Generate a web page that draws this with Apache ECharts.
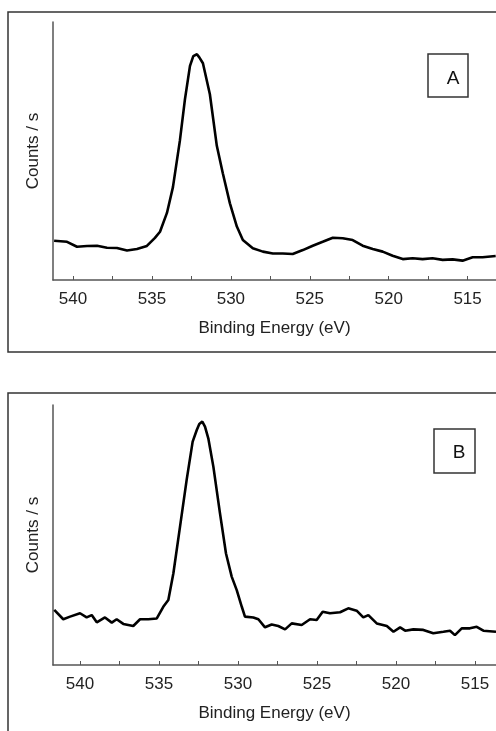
<!DOCTYPE html>
<html>
<head>
<meta charset="utf-8">
<script src="https://cdn.jsdelivr.net/npm/echarts@6/dist/echarts.min.js"></script>
<style>
    html, body {margin: 0; padding: 0; background: #fff;}
    #chart {width: 496px; height: 731px;}
</style>
</head>
<body>
<div id="chart"></div>
<script>
    // 面板 A：结合能 / 计数
    const energyA = [541.2, 540.38, 539.75, 539.11, 538.48, 537.85, 537.22, 536.58, 535.95, 535.32,
        534.81, 534.49, 534.05, 533.67, 533.23, 532.91, 532.59, 532.38, 532.15, 532.0, 531.77, 531.33,
        530.89, 530.51, 530.06, 529.62, 529.24, 528.61, 527.97, 527.34, 526.71, 526.08,
        525.44, 524.81, 524.18, 523.54, 522.91, 522.28, 521.65, 521.01, 520.38, 519.75,
        519.11, 518.48, 517.85, 517.22, 516.58, 515.95, 515.32, 514.68, 514.05, 513.22];
    const countsA = [15.2, 14.8, 12.9, 13.2, 13.3, 12.5, 12.4, 11.4, 12.0, 13.2,
        16.3, 18.7, 26, 36, 54, 70, 83, 86.8, 87.5, 86.3, 84, 72,
        52, 41.4, 29.7, 20.7, 15.5, 12.3, 11, 10.3, 10.3, 10.1,
        11.6, 13.3, 14.8, 16.4, 16.2, 15.5, 13.3, 12, 11, 9.4,
        8.1, 8.4, 8.1, 8.4, 7.8, 8, 7.5, 8.8, 8.8, 9.3];

    // 面板 B
    const energyB = [541.63, 541.06, 540.63, 540, 539.58, 539.26, 538.94, 538.42, 537.99, 537.68,
        537.26, 536.63, 536.2, 535.68, 535.14, 534.73, 534.41, 534.09, 533.67, 533.25,
        532.87, 532.61, 532.45, 532.26, 532.09, 531.88, 531.56, 531.14, 530.76, 530.4, 530.08, 529.76,
        529.56, 529.03, 528.71, 528.29, 527.87, 527.45, 527.02, 526.6, 525.97, 525.44,
        525.02, 524.64, 524.18, 523.54, 523.02, 522.49, 522.07, 521.75, 521.22, 520.58,
        520.16, 519.74, 519.42, 518.9, 518.27, 517.64, 517, 516.58, 516.27, 515.84,
        515.32, 514.89, 514.47, 513.67];
    const countsB = [21.2, 17.6, 18.6, 19.9, 18.3, 19.2, 16.4, 18.3, 16.3, 17.6,
        15.8, 15, 17.6, 17.6, 17.9, 22.4, 25, 35.3, 53.2, 71.2,
        85.9, 90.4, 92.7, 93.6, 91.7, 87.2, 76.3, 58.3, 42.9, 34, 28.8, 22.4,
        18.6, 18.3, 17.6, 14.5, 15.6, 15, 13.7, 16, 15.4, 17.6,
        17.3, 20.5, 19.9, 20.3, 21.8, 20.9, 18.3, 19.2, 16, 15,
        12.8, 14.5, 13.2, 13.7, 13.5, 12.2, 12.8, 13.2, 11.5, 14.1,
        14.1, 14.7, 13.2, 12.8];

    const tickValues = [515, 517.5, 520, 522.5, 525, 527.5, 530, 532.5, 535, 537.5, 540];
    const labelValues = [515, 520, 525, 530, 535, 540];
    const panelLabels = ['A', 'B'];

    const zip = (xs, ys) => xs.map((x, i) => [x, ys[i]]);
    const font = '"Liberation Sans", Arial, sans-serif';
    const axisColor = '#555';

    const makeX = function (gridIndex, min, max) {
        return {
            gridIndex: gridIndex,
            type: 'value',
            inverse: true,
            min: min,
            max: max,
            name: 'Binding Energy (eV)',
            nameLocation: 'middle',
            nameGap: 40,
            nameTextStyle: {fontFamily: font, fontSize: 17, color: '#222'},
            axisLine: {lineStyle: {color: axisColor, width: 1.5}},
            axisTick: {inside: true, length: 4, customValues: tickValues, lineStyle: {color: axisColor}},
            axisLabel: {customValues: labelValues, margin: 11, fontFamily: font, fontSize: 17, color: '#222'},
            splitLine: {show: false}
        };
    };
    const makeY = function (gridIndex) {
        return {
            gridIndex: gridIndex,
            type: 'value',
            min: 0,
            max: 100,
            name: 'Counts / s',
            nameLocation: 'middle',
            nameGap: 11,
            nameTextStyle: {fontFamily: font, fontSize: 17, color: '#222'},
            axisLine: {show: true, lineStyle: {color: axisColor, width: 1.5}},
            axisTick: {show: false},
            axisLabel: {show: false},
            splitLine: {show: false}
        };
    };

    const chart = echarts.init(document.getElementById('chart'), null, {renderer: 'canvas'});
    chart.setOption({
        animation: false,
        backgroundColor: '#fff',
        grid: [
            {left: 53, top: 22, width: 443, height: 258},
            {left: 53, top: 405, width: 443, height: 260}
        ],
        xAxis: [makeX(0, 513.2, 541.27), makeX(1, 513.67, 541.71)],
        yAxis: [makeY(0), makeY(1)],
        series: [
            {
                type: 'line', xAxisIndex: 0, yAxisIndex: 0, data: zip(energyA, countsA),
                showSymbol: false, lineStyle: {color: '#000', width: 2.6}
            },
            {
                type: 'line', xAxisIndex: 1, yAxisIndex: 1, data: zip(energyB, countsB),
                showSymbol: false, lineStyle: {color: '#000', width: 2.6}
            }
        ],
        graphic: [
            // 外框
            {type: 'rect', shape: {x: 8, y: 12, width: 500, height: 340}, style: {fill: 'none', stroke: '#333', lineWidth: 1.5}},
            {type: 'rect', shape: {x: 8, y: 393, width: 500, height: 360}, style: {fill: 'none', stroke: '#333', lineWidth: 1.5}},
            // 标签框
            {type: 'rect', shape: {x: 428, y: 54, width: 40, height: 43}, style: {fill: '#fff', stroke: '#333', lineWidth: 1.5}},
            {type: 'text', x: 453, y: 79, style: {text: panelLabels[0], font: '19px ' + font, fill: '#111', align: 'center', verticalAlign: 'middle'}},
            {type: 'rect', shape: {x: 434, y: 429, width: 41, height: 44}, style: {fill: '#fff', stroke: '#333', lineWidth: 1.5}},
            {type: 'text', x: 459, y: 453, style: {text: panelLabels[1], font: '19px ' + font, fill: '#111', align: 'center', verticalAlign: 'middle'}}
        ]
    });
</script>
</body>
</html>
